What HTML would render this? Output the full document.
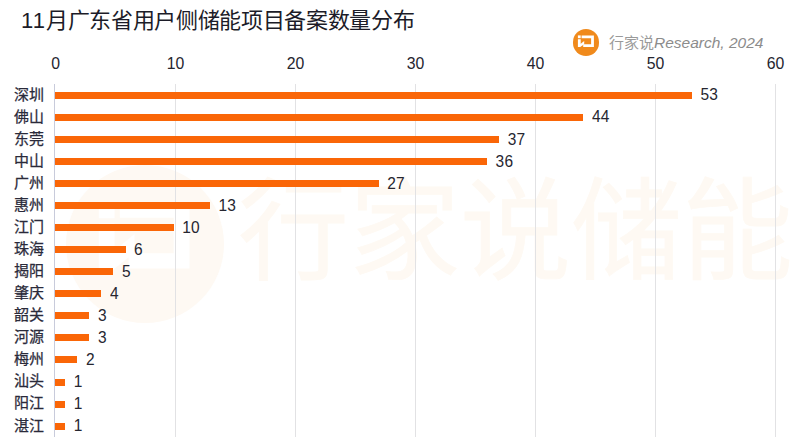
<!DOCTYPE html>
<html lang="zh-CN"><head><meta charset="utf-8"><style>
html,body{margin:0;padding:0;background:#fff;}
body{width:800px;height:444px;position:relative;overflow:hidden;font-family:"Liberation Sans",sans-serif;}
.wm{position:absolute;left:238px;top:178px;font-size:111px;font-weight:500;color:#fef9f3;-webkit-text-stroke:0.8px #fef9f3;white-space:nowrap;line-height:1}
.wmc{position:absolute;left:66px;top:165px}
.title{position:absolute;left:21px;top:6px;font-size:22px;letter-spacing:-0.33px;line-height:30px;color:#1c1c28;white-space:nowrap}
.logo{position:absolute;left:572.6px;top:29.2px;width:26.8px;height:26.8px;border-radius:50%;background:#f08a1c}
.logo svg{display:block}
.src{position:absolute;left:609px;top:33px;font-size:14.5px;line-height:20px;color:#909090;white-space:nowrap}
.src .cn{font-family:"Liberation Serif",serif;font-size:15px;font-weight:300;color:#9a9a9a}
.src i{font-size:15.5px;color:#8c8c8c}
.grid{position:absolute;top:84px;height:353px;width:1px;background:#e2e2e4}
.axis{position:absolute;left:54px;top:84px;height:353px;width:1px;background:#c8cbdb}
.tick{position:absolute;top:54px;width:60px;text-align:center;font-size:15.8px;line-height:20px;color:#262630}
.bar{position:absolute;left:55px;height:7.0px;background:#fa6607}
.cat{position:absolute;right:755.6px;font-size:15.0px;font-weight:500;line-height:20px;color:#2a2a3a;white-space:nowrap;-webkit-text-stroke:0.25px #2a2a3a}
.val{position:absolute;font-size:15.5px;line-height:20px;color:#262630;white-space:nowrap;transform:scaleY(1.07);transform-origin:0 50%;letter-spacing:0.2px}
</style></head><body>
<svg class="wmc" width="158" height="158" viewBox="0 0 27 27"><circle cx="13.5" cy="13.5" r="13.5" fill="#fef9f3"/><g fill="#fff"><rect x="5.6" y="6.4" width="2.7" height="2.7"/><path d="M9.2 6.4h11.9v11.3h-10.4v-2.6h7.7v-6.1h-9.2z"/><path d="M5.6 10h2.7v4.6l3.4-2.8v3.2l-3.9 3.1h-2.2z"/></g></svg>
<div class="wm">行家说储能</div>
<div class="title"><span style="letter-spacing:1.1px">11</span>月广东省用户侧储能项目备案数量分布</div>
<div class="logo"><svg width="27" height="27" viewBox="0 0 27 27"><g fill="#fff" transform="translate(0 0.4)"><rect x="4.9" y="6" width="2.8" height="2.8"/><path d="M8.6 6H20.9V17.6H10.2V14.8H18.1V8.8H8.6Z"/><path d="M4.9 9.8H7.7V14.4L11.2 11.6V14.8L7.2 17.6H4.9Z"/></g></svg></div>
<div class="src"><span class="cn">行家说</span><i>Research, 2024</i></div>
<div class="grid" style="left:174.5px"></div>
<div class="grid" style="left:294.5px"></div>
<div class="grid" style="left:414.5px"></div>
<div class="grid" style="left:534.5px"></div>
<div class="grid" style="left:654.5px"></div>
<div class="grid" style="left:774.5px"></div>
<div class="bar" style="top:91.60px;width:636.85px"></div>
<div class="cat" style="top:84.50px">深圳</div>
<div class="val" style="top:85.40px;left:700.45px">53</div>
<div class="bar" style="top:113.67px;width:528.40px"></div>
<div class="cat" style="top:106.57px">佛山</div>
<div class="val" style="top:107.47px;left:592.00px">44</div>
<div class="bar" style="top:135.74px;width:444.05px"></div>
<div class="cat" style="top:128.64px">东莞</div>
<div class="val" style="top:129.54px;left:507.65px">37</div>
<div class="bar" style="top:157.81px;width:432.00px"></div>
<div class="cat" style="top:150.71px">中山</div>
<div class="val" style="top:151.61px;left:495.60px">36</div>
<div class="bar" style="top:179.88px;width:323.55px"></div>
<div class="cat" style="top:172.78px">广州</div>
<div class="val" style="top:173.68px;left:387.15px">27</div>
<div class="bar" style="top:201.95px;width:154.85px"></div>
<div class="cat" style="top:194.85px">惠州</div>
<div class="val" style="top:195.75px;left:218.45px">13</div>
<div class="bar" style="top:224.02px;width:118.70px"></div>
<div class="cat" style="top:216.92px">江门</div>
<div class="val" style="top:217.82px;left:182.30px">10</div>
<div class="bar" style="top:246.09px;width:70.50px"></div>
<div class="cat" style="top:238.99px">珠海</div>
<div class="val" style="top:239.89px;left:134.10px">6</div>
<div class="bar" style="top:268.16px;width:58.45px"></div>
<div class="cat" style="top:261.06px">揭阳</div>
<div class="val" style="top:261.96px;left:122.05px">5</div>
<div class="bar" style="top:290.23px;width:46.40px"></div>
<div class="cat" style="top:283.13px">肇庆</div>
<div class="val" style="top:284.03px;left:110.00px">4</div>
<div class="bar" style="top:312.30px;width:34.35px"></div>
<div class="cat" style="top:305.20px">韶关</div>
<div class="val" style="top:306.10px;left:97.95px">3</div>
<div class="bar" style="top:334.37px;width:34.35px"></div>
<div class="cat" style="top:327.27px">河源</div>
<div class="val" style="top:328.17px;left:97.95px">3</div>
<div class="bar" style="top:356.44px;width:22.30px"></div>
<div class="cat" style="top:349.34px">梅州</div>
<div class="val" style="top:350.24px;left:85.90px">2</div>
<div class="bar" style="top:378.51px;width:10.25px"></div>
<div class="cat" style="top:371.41px">汕头</div>
<div class="val" style="top:372.31px;left:73.85px">1</div>
<div class="bar" style="top:400.58px;width:10.25px"></div>
<div class="cat" style="top:393.48px">阳江</div>
<div class="val" style="top:394.38px;left:73.85px">1</div>
<div class="bar" style="top:422.65px;width:10.25px"></div>
<div class="cat" style="top:415.55px">湛江</div>
<div class="val" style="top:416.45px;left:73.85px">1</div>
<div class="axis"></div>
<div class="tick" style="left:25.6px">0</div>
<div class="tick" style="left:145.6px">10</div>
<div class="tick" style="left:265.6px">20</div>
<div class="tick" style="left:385.6px">30</div>
<div class="tick" style="left:505.6px">40</div>
<div class="tick" style="left:625.6px">50</div>
<div class="tick" style="left:745.6px">60</div>
</body></html>
